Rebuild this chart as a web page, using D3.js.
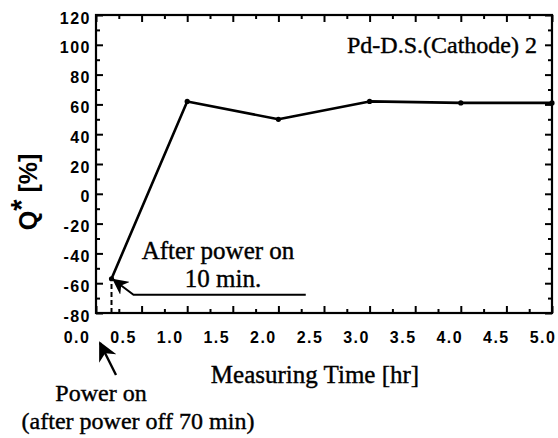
<!DOCTYPE html>
<html>
<head>
<meta charset="utf-8">
<script src="https://cdn.jsdelivr.net/npm/d3@7"></script>
<style>
  body { margin: 0; background: #fff; }
  svg { display: block; }
  .tick-lbl { font-family: "Liberation Sans", Arial, sans-serif; font-weight: bold; font-size: 16px; letter-spacing: 1.5px; }
  .serif { font-family: "Liberation Serif", "Times New Roman", serif; stroke: #000; stroke-width: 0.4px; }
</style>
</head>
<body>
<div class="chartViz"></div>
<script>
// data
var hours = [0.17, 1.0, 2.0, 3.0, 4.0, 5.0]
var qstar = [-57, 62, 50, 62, 61, 61]
var xTicks = [0, 0.5, 1, 1.5, 2, 2.5, 3, 3.5, 4, 4.5, 5]
var yTicks = [-80, -60, -40, -20, 0, 20, 40, 60, 80, 100, 120]

var width = 558, height = 438
var margin = ({ top: 15, right: 6, bottom: 125, left: 96 })

var svg = d3.select(".chartViz")
    .append("svg")
    .attr("width", width)
    .attr("height", height)

var x = d3.scaleLinear().domain([0, 5]).range([margin.left, width - margin.right])
var y = d3.scaleLinear().domain([-80, 120]).range([height - margin.bottom, margin.top])

var minorX = d3.range(0, 5.01, 0.25)
var minorY = d3.range(-80, 121, 10)

// inward ticks on all four sides
var bottomAxis = svg.append("g").attr("transform", `translate(0,${y(-80)})`)
bottomAxis.call(d3.axisTop(x).tickValues(minorX).tickFormat("").tickSize(0))
bottomAxis.selectAll(".tick line").attr("y2", d => (d * 2) % 1 === 0 ? -7 : -4)

var topAxis = svg.append("g").attr("transform", `translate(0,${y(120)})`)
topAxis.call(d3.axisBottom(x).tickValues(minorX).tickFormat("").tickSize(0))
topAxis.selectAll(".tick line").attr("y2", d => (d * 2) % 1 === 0 ? 7 : 4)

var leftAxis = svg.append("g").attr("transform", `translate(${x(0)},0)`)
leftAxis.call(d3.axisRight(y).tickValues(minorY).tickFormat("").tickSize(0))
leftAxis.selectAll(".tick line").attr("x2", d => d % 20 === 0 ? 7 : 4)

var rightAxis = svg.append("g").attr("transform", `translate(${x(5)},0)`)
rightAxis.call(d3.axisLeft(y).tickValues(minorY).tickFormat("").tickSize(0))
rightAxis.selectAll(".tick line").attr("x2", d => d % 20 === 0 ? -7 : -4)

svg.selectAll(".domain").remove()
svg.selectAll(".tick line").attr("stroke", "#000").attr("stroke-width", 2)

// frame
svg.append("rect")
    .attr("x", x(0)).attr("y", y(120))
    .attr("width", x(5) - x(0)).attr("height", y(-80) - y(120))
    .attr("fill", "none").attr("stroke", "#000").attr("stroke-width", 2.2)

// tick labels
svg.append("g").selectAll("text")
    .data(yTicks)
    .join("text")
    .attr("class", "tick-lbl")
    .attr("x", x(0) - 5)
    .attr("y", d => y(d) + 3)
    .attr("dy", "0.35em")
    .attr("text-anchor", "end")
    .text(d => d)

svg.append("g").selectAll("text")
    .data(xTicks)
    .join("text")
    .attr("class", "tick-lbl")
    .attr("x", d => x(d) - 19 + 2 * d)
    .attr("y", y(-80) + 30)
    .attr("text-anchor", "middle")
    .text(d => d.toFixed(1))

// dashed marker at first point
svg.append("line")
    .attr("x1", x(hours[0])).attr("x2", x(hours[0]))
    .attr("y1", y(-80)).attr("y2", y(qstar[0]) + 4)
    .attr("stroke", "#000").attr("stroke-width", 2)
    .attr("stroke-dasharray", "5,3")

// data line
var pts = hours.map((h, i) => [h, qstar[i]])
svg.append("path")
    .datum(pts)
    .attr("fill", "none")
    .attr("stroke", "#000")
    .attr("stroke-width", 2.6)
    .attr("stroke-linejoin", "round")
    .attr("d", d3.line().x(d => x(d[0])).y(d => y(d[1])))

svg.append("g").selectAll("circle")
    .data(pts)
    .join("circle")
    .attr("cx", d => x(d[0]))
    .attr("cy", d => y(d[1]))
    .attr("r", 2.6)
    .attr("fill", "#000")

// arrowheads
svg.append("defs").append("marker")
    .attr("id", "arr")
    .attr("viewBox", "0 0 10 10")
    .attr("refX", 9).attr("refY", 5)
    .attr("markerWidth", 8).attr("markerHeight", 8)
    .attr("orient", "auto")
    .append("path").attr("d", "M0,0 L10,5 L0,10 L3,5 Z").attr("fill", "#000")

// "after power on" callout
var p0x = x(hours[0]), p0y = y(qstar[0])
svg.append("path")
    .attr("d", `M${x(2.3)},${p0y + 16} L${p0x + 22},${p0y + 16} L${p0x + 2},${p0y + 1}`)
    .attr("fill", "none").attr("stroke", "#000").attr("stroke-width", 2)
    .attr("marker-end", "url(#arr)")

svg.append("text").attr("class", "serif")
    .attr("x", 218).attr("y", 259).attr("text-anchor", "middle")
    .attr("font-size", 25).text("After power on")
svg.append("text").attr("class", "serif")
    .attr("x", 223).attr("y", 287).attr("text-anchor", "middle")
    .attr("font-size", 25).text("10 min.")

// "power on" callout
svg.append("line")
    .attr("x1", 116).attr("y1", 375).attr("x2", 100).attr("y2", 343)
    .attr("stroke", "#000").attr("stroke-width", 2.4)
    .attr("marker-end", "url(#arr)")
svg.append("text").attr("class", "serif")
    .attr("x", 101).attr("y", 401).attr("text-anchor", "middle")
    .attr("font-size", 24).text("Power on")
svg.append("text").attr("class", "serif")
    .attr("x", 138).attr("y", 429).attr("text-anchor", "middle")
    .attr("font-size", 24).text("(after power off 70 min)")

// title inside plot
svg.append("text").attr("class", "serif")
    .attr("x", 537).attr("y", 53).attr("text-anchor", "end")
    .attr("font-size", 24).text("Pd-D.S.(Cathode) 2")

// axis titles
svg.append("text").attr("class", "serif")
    .attr("x", 315).attr("y", 383).attr("text-anchor", "middle")
    .attr("font-size", 25).text("Measuring Time [hr]")

var yl = svg.append("text")
    .attr("transform", "translate(37,192) rotate(-90)")
    .attr("text-anchor", "middle")
    .attr("font-family", "Liberation Sans, Arial, sans-serif")
    .attr("font-weight", "bold")
    .attr("font-size", 25)
yl.append("tspan").text("Q")
yl.append("tspan").attr("dy", -6).attr("font-size", 29).text("*")
yl.append("tspan").attr("dy", 6).text(" [%]")
</script>
</body>
</html>
